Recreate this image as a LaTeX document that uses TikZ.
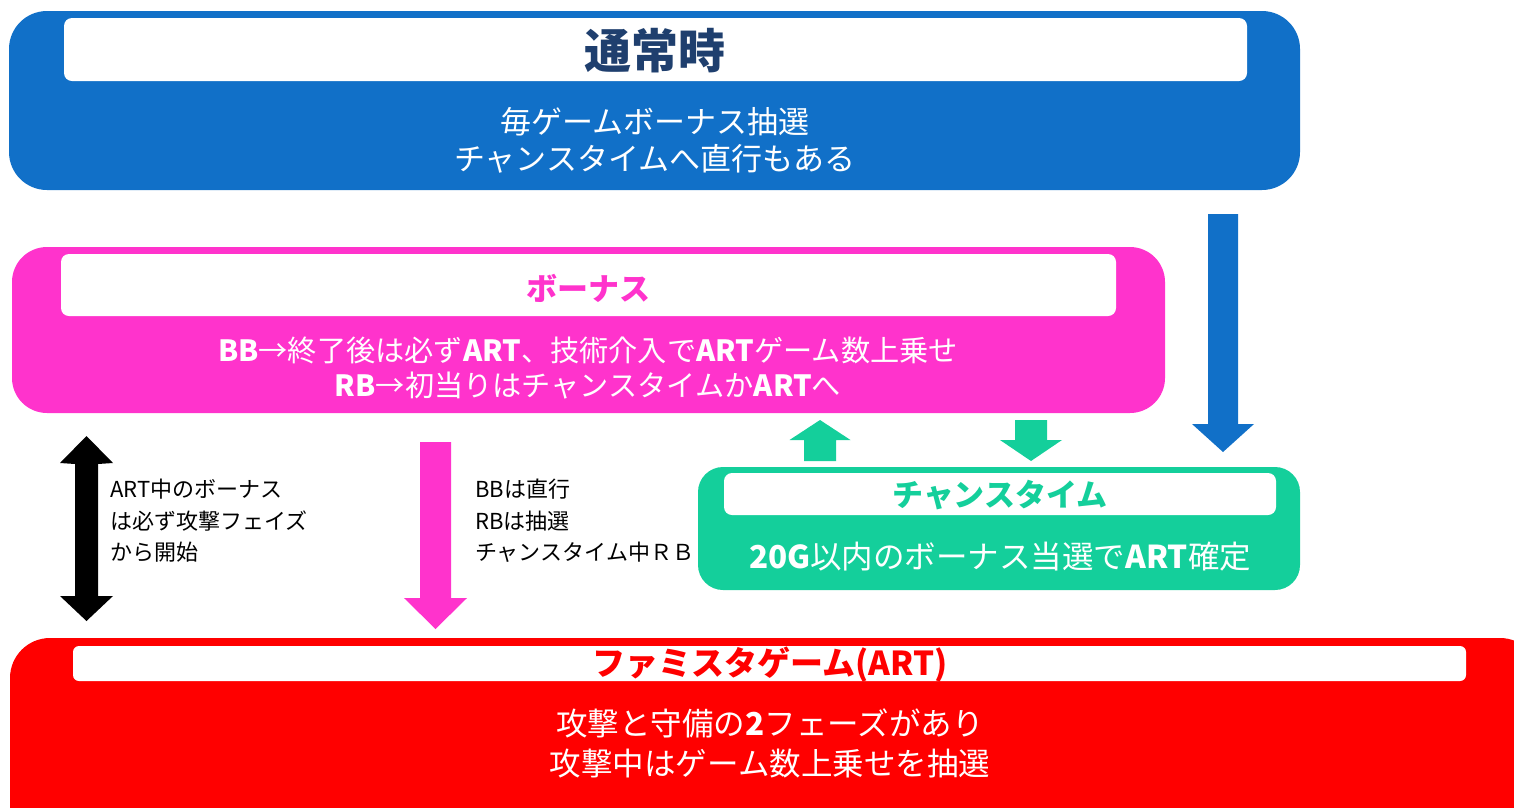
\documentclass[tikz,border=0pt]{standalone}
\usepackage{fontspec}
\setmainfont{Noto Sans CJK JP}
\definecolor{tblue}{HTML}{1170C8}
\definecolor{tnavy}{HTML}{1F3F6E}
\definecolor{tpink}{HTML}{FF33CC}
\definecolor{tgreen}{HTML}{14CF9B}
\definecolor{tred}{HTML}{FF0000}
\newcommand{\fs}[1]{\fontsize{#1}{#1}\selectfont}
% colour, x, tail y, tip y, half shaft, half head, head length
\newcommand{\blkdown}[7]{\fill[#1] ({#2-#5},#3) -- ({#2+#5},#3) -- ({#2+#5},{#4-#7}) -- ({#2+#6},{#4-#7}) -- (#2,#4) -- ({#2-#6},{#4-#7}) -- ({#2-#5},{#4-#7}) -- cycle;}
\newcommand{\blkup}[7]{\fill[#1] ({#2-#5},#3) -- ({#2+#5},#3) -- ({#2+#5},{#4+#7}) -- ({#2+#6},{#4+#7}) -- (#2,#4) -- ({#2-#6},{#4+#7}) -- ({#2-#5},{#4+#7}) -- cycle;}
\begin{document}
\begin{tikzpicture}[x=1pt,y=-1pt,
  panel/.style={inner sep=0pt, draw=none},
  head/.style={fill=white, inner sep=0pt, draw=none, rounded corners=8pt},
  body/.style={text=white, align=center, inner sep=0pt},
  side/.style={text=black, align=left, anchor=west, inner sep=0pt, font=\fontsize{22}{31.5}\selectfont}]
\path[use as bounding box] (0,0) rectangle (1514,807);
\clip (0,0) rectangle (1514,807);

% normal
\node[panel, fill=tblue, rounded corners=38pt, minimum width=1291pt, minimum height=179pt] (normal) at (654.5,100.5) {};
\node[head, minimum width=1183pt, minimum height=63pt] (normalhead) at (655.5,49.5) {};
\node[text=tnavy, font=\bfseries\fs{47}] (normaltitle) at (655,51) {通常時};
\node[body, font=\fontsize{31}{37}\selectfont] (normalbody) at (655,140) {毎ゲームボーナス抽選\\チャンスタイムへ直行もある};

% bonus
\node[panel, fill=tpink, rounded corners=35pt, minimum width=1153pt, minimum height=166pt] (bonus) at (588.5,330) {};
\node[head, minimum width=1055pt, minimum height=62pt] (bonushead) at (588.5,285) {};
\node[text=tpink, font=\bfseries\fs{31}] (bonustitle) at (588,288) {ボーナス};
\node[body, font=\fontsize{29.2}{35}\selectfont] (bonusbody) at (588,368) {\textbf{BB}→終了後は必ず\textbf{ART}、技術介入で\textbf{ART}ゲーム数上乗せ\\\textbf{RB}→初当りはチャンスタイムか\textbf{ART}へ};

% chance time
\node[panel, fill=tgreen, rounded corners=25pt, minimum width=602pt, minimum height=123pt] (chance) at (999,528.5) {};
\node[head, minimum width=552pt, minimum height=42pt] (chancehead) at (1000,494) {};
\node[text=tgreen, font=\bfseries\fs{31}] (chancetitle) at (1000,495) {チャンスタイム};
\node[body, font=\fs{31.5}] (chancebody) at (1000,557) {\textbf{20G}以内のボーナス当選で\textbf{ART}確定};

% ART
\node[panel, fill=tred, rounded corners=40pt, minimum width=1530pt, minimum height=210pt] (art) at (775,743) {};
\node[head, rounded corners=6pt, minimum width=1393pt, minimum height=35pt] (arthead) at (769.5,663.5) {};
\node[text=tred, font=\bfseries\fs{33}] (arttitle) at (770,665) {ファミスタゲーム(ART)};
\node[body, font=\fontsize{31.5}{40}\selectfont] (artbody) at (770,743) {攻撃と守備の\textbf{2}フェーズがあり\\攻撃中はゲーム数上乗せを抽選};

% block arrows
\coordinate (btail) at (1223,214); \coordinate (btip) at (1223,452);
\blkdown{tblue}{1223}{214}{452}{15}{31}{28}
\blkdown{tpink}{435.5}{442}{629}{15.5}{31.5}{31}
\blkup{tgreen}{820}{461}{420}{16}{30.5}{20}
\blkdown{tgreen}{1031}{420}{461}{16}{31}{21}
% black double arrow
\fill[black] (75,463) -- (98,463) -- (98,596) -- (113,596) -- (86.5,621) -- (60,596) -- (75,596) -- cycle;
\fill[black] (75,464) -- (60,463) -- (86.5,436) -- (113,463) -- (98,464) -- cycle;

% side labels
\node[side] (lbl1) at (110,521) {ART中のボーナス\\は必ず攻撃フェイズ\\から開始};
\node[side] (lbl2) at (475,521) {BBは直行\\RBは抽選\\チャンスタイム中ＲＢ};
\end{tikzpicture}
\end{document}
